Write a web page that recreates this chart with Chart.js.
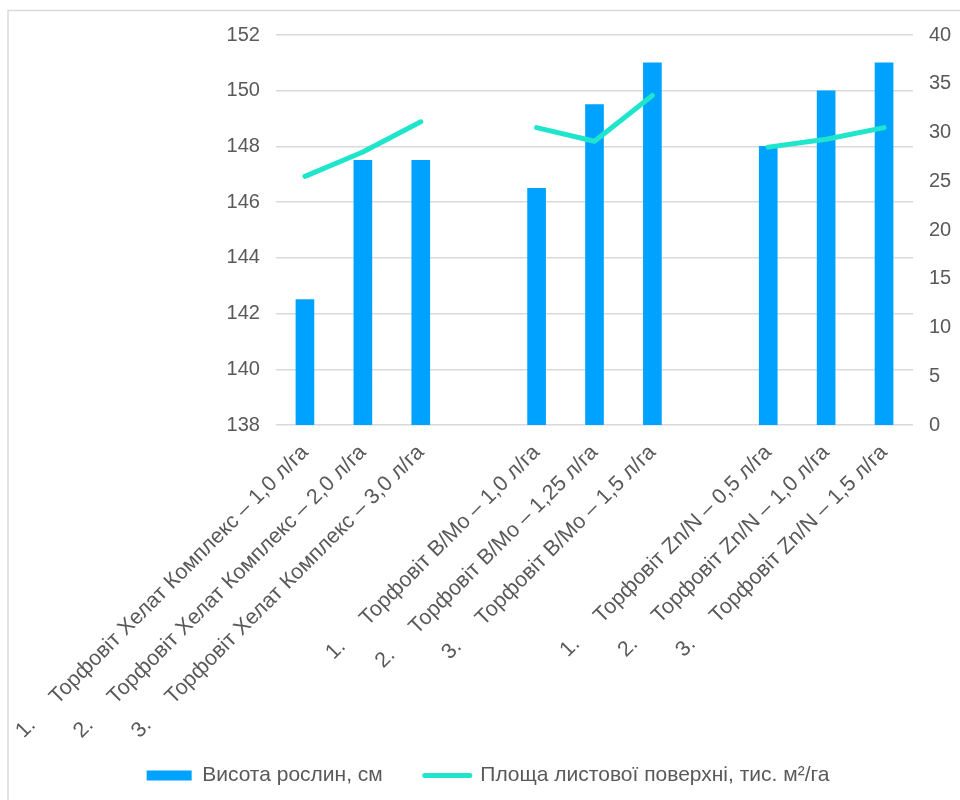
<!DOCTYPE html>
<html>
<head>
<meta charset="utf-8">
<script src="https://cdn.jsdelivr.net/npm/chart.js@4/dist/chart.umd.min.js"></script>
<style>
    html, body { margin:0; padding:0; background:#ffffff; }
    #wrap { position:relative; width:960px; height:800px; }
</style>
</head>
<body>
<div id="wrap"><canvas id="mainChart" width="960" height="800"></canvas></div>
<script>

//======================================================
// DATA
//======================================================

const categories = [
    "1.     Торфовіт Хелат Комплекс – 1,0 л/га",
    "2.     Торфовіт Хелат Комплекс – 2,0 л/га",
    "3.     Торфовіт Хелат Комплекс – 3,0 л/га",
    "",
    "1.     Торфовіт B/Mo – 1,0 л/га",
    "2.     Торфовіт B/Mo – 1,25 л/га",
    "3.     Торфовіт B/Mo – 1,5 л/га",
    "",
    "1.     Торфовіт Zn/N – 0,5 л/га",
    "2.     Торфовіт Zn/N – 1,0 л/га",
    "3.     Торфовіт Zn/N – 1,5 л/га"
];

const plantHeight = [142.5, 147.5, 147.5, null, 146.5, 149.5, 151, null, 148, 150, 151];

const leafArea = [25.5, 28.0, 31.1, null, 30.5, 29.1, 33.8, null, 28.5, 29.3, 30.5];

const seriesNames = ["Висота рослин, см", "Площа листової поверхні, тис. м²/га"];

const leftTicks = [138, 140, 142, 144, 146, 148, 150, 152];
const rightTicks = [0, 5, 10, 15, 20, 25, 30, 35, 40];

//======================================================
// FRAME PLUGIN
//======================================================

const framePlugin = {
    id:"frame",
    beforeDraw(chart){
        const c = chart.ctx;
        c.save();
        c.strokeStyle = "#D9D9D9";
        c.lineWidth = 1.5;
        c.beginPath();
        c.moveTo(8, 800);
        c.lineTo(8, 10.5);
        c.lineTo(960, 10.5);
        c.stroke();
        c.restore();
    }
};

//======================================================
// CHART
//======================================================

const textColor = "#595959";
const fontFamily = "'Liberation Sans', Arial, sans-serif";
const barColor = "#00A2FF";
const lineColor = "#1FE5CC";

new Chart(document.getElementById("mainChart").getContext("2d"),{

    data:{
        labels:categories,
        datasets:[
            {
                type:"line",
                label:seriesNames[1],
                data:leafArea,
                yAxisID:"y2",
                borderColor:lineColor,
                backgroundColor:lineColor,
                borderWidth:5,
                borderCapStyle:"round",
                borderJoinStyle:"round",
                pointRadius:0,
                spanGaps:false,
                order:0
            },
            {
                type:"bar",
                label:seriesNames[0],
                data:plantHeight,
                yAxisID:"y",
                backgroundColor:barColor,
                barThickness:18,
                order:1
            }
        ]
    },

    options:{
        responsive:false,
        animation:false,
        layout:{ padding:{ top:35, bottom:4, left:16, right:0 } },
        plugins:{
            legend:{
                position:"bottom",
                reverse:true,
                labels:{
                    color:textColor,
                    font:{ family:fontFamily, size:21 },
                    usePointStyle:true,
                    pointStyleWidth:45,
                    boxHeight:10,
                    padding:42,
                    generateLabels(chart){
                        const items = Chart.defaults.plugins.legend.labels.generateLabels(chart);
                        items.forEach(function(it){
                            if(it.datasetIndex === 1){
                                it.pointStyle = "rect";
                                it.fillStyle = barColor;
                                it.lineWidth = 0;
                            }
                            else{
                                it.pointStyle = "line";
                                it.strokeStyle = lineColor;
                                it.lineWidth = 5;
                                it.lineCap = "round";
                            }
                        });
                        return items;
                    }
                }
            },
            tooltip:{ enabled:false }
        },
        scales:{
            x:{
                grid:{ display:false },
                border:{ display:false },
                ticks:{
                    color:textColor,
                    font:{ family:fontFamily, size:21.5 },
                    autoSkip:false,
                    minRotation:45,
                    maxRotation:45,
                    padding:7
                },
                afterFit(scale){
                    scale.height = 298;
                    // let the long rotated labels run below the axis box
                    scale._computeLabelArea = function(){ return undefined; };
                }
            },
            y:{
                position:"left",
                min:138,
                max:152,
                afterBuildTicks(scale){ scale.ticks = leftTicks.map(v => ({ value:v })); },
                grid:{ color:"#D9D9D9", lineWidth:1.5, drawTicks:false },
                border:{ display:false },
                ticks:{
                    color:textColor,
                    font:{ family:fontFamily, size:20 },
                    padding:16
                },
                afterFit(scale){ scale.width = 259; }
            },
            y2:{
                position:"right",
                min:0,
                max:40,
                afterBuildTicks(scale){ scale.ticks = rightTicks.map(v => ({ value:v })); },
                grid:{ display:false, drawTicks:false },
                border:{ display:false },
                ticks:{
                    color:textColor,
                    font:{ family:fontFamily, size:20 },
                    padding:16
                },
                afterFit(scale){ scale.width = 47; }
            }
        }
    },

    plugins:[framePlugin]

});

</script>
</body>
</html>
